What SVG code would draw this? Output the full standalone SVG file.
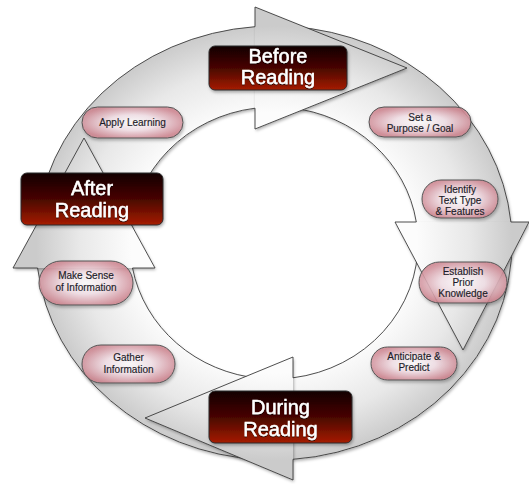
<svg xmlns="http://www.w3.org/2000/svg" width="529" height="484" viewBox="0 0 529 484">
<defs>
<radialGradient id="ringGrad" gradientUnits="userSpaceOnUse" cx="0" cy="0" r="1" gradientTransform="translate(274 243) scale(238 217)">
<stop offset="0.6" stop-color="#fcfcfc"/>
<stop offset="0.82" stop-color="#e8e8e8"/>
<stop offset="1" stop-color="#cbcbcb"/>
</radialGradient>
<linearGradient id="boxGrad" x1="0" y1="0" x2="0" y2="1">
<stop offset="0" stop-color="#120000"/>
<stop offset="0.5" stop-color="#480600"/>
<stop offset="1" stop-color="#a61c06"/>
</linearGradient>
<radialGradient id="pillGrad" cx="0.5" cy="0.5" r="0.55">
<stop offset="0" stop-color="#ffffff"/>
<stop offset="0.45" stop-color="#f5e3ea"/>
<stop offset="1" stop-color="#cf8590"/>
</radialGradient>
<filter id="shadow" x="-10%" y="-10%" width="130%" height="130%">
<feDropShadow dx="1" dy="2" stdDeviation="1.5" flood-color="#000" flood-opacity="0.3"/>
</filter>
<filter id="tshadow" x="-10%" y="-10%" width="120%" height="130%">
<feDropShadow dx="0" dy="1" stdDeviation="0.6" flood-color="#000" flood-opacity="0.8"/>
</filter>
</defs>
<style>
.shaft{fill:url(#ringGrad);stroke:none}
.edge{fill:none;stroke:#3a3a3a;stroke-width:0.9}
.head{fill:url(#ringGrad);stroke:none}
.phase rect{fill:url(#boxGrad);stroke:#2a2a2a;stroke-width:1}
.phase text{font-family:"Liberation Sans",Arial,sans-serif;font-size:20px;fill:#ffffff;stroke:#ffffff;stroke-width:0.4;text-anchor:middle}
.pill rect{fill:url(#pillGrad);fill-opacity:0.85;stroke:#555;stroke-width:1}
.pill text{font-family:"Liberation Sans",Arial,sans-serif;font-size:10px;fill:#1c1c28;stroke:#1c1c28;stroke-width:0.15;text-anchor:middle}
</style>
<rect width="529" height="484" fill="#ffffff"/>
<g id="connectors">
<g filter="url(#shadow)">
<path class="shaft" d="M36.2,235 A238,217 0 0 1 257,26.55 L257,107.95 A144,136 0 0 0 130.2,235 Z"/>
<path class="shaft" d="M290,26.5 A238,217 0 0 1 511.1,224 L416.6,224 A144,136 0 0 0 290,107.8 Z"/>
<path class="shaft" d="M512,240 A238,217 0 0 1 291,459.45 L291,378.05 A144,136 0 0 0 418,240 Z"/>
<path class="shaft" d="M260,459.6 A238,217 0 0 1 37.35,266 L132.07,266 A144,136 0 0 0 260,378.4 Z"/>
</g>
<path class="edge" d="M36.2,235 A238,217 0 0 1 255,26.7"/>
<path class="edge" d="M130.2,235 A144,136 0 0 1 255,108.2"/>
<path class="edge" d="M290,26.5 A238,217 0 0 1 510.9,222"/>
<path class="edge" d="M290,107.8 A144,136 0 0 1 416.3,222"/>
<path class="edge" d="M512,240 A238,217 0 0 1 293,459.3"/>
<path class="edge" d="M418,240 A144,136 0 0 1 293,377.8"/>
<path class="edge" d="M260,459.6 A238,217 0 0 1 37.6,268"/>
<path class="edge" d="M260,378.4 A144,136 0 0 1 132.5,268"/>
<g filter="url(#shadow)">
<polygon class="head" points="255,7 407,68 255,129"/>
<polygon class="head" points="529,222 463,350 395,222"/>
<polygon class="head" points="293,357 145,418 293,480"/>
<polygon class="head" points="13,268 84,138 155,268"/>
</g>
<path class="edge" d="M255,26.7 L255,7 L407,68 L255,129 L255,108.2"/>
<path class="edge" d="M510.9,222 L529,222 L463,350 L395,222 L416.3,222"/>
<path class="edge" d="M293,377.8 L293,357 L145,418 L293,480 L293,459.3"/>
<path class="edge" d="M37.6,268 L13,268 L84,138 L155,268 L132.5,268"/>
</g>
<g id="before-reading" class="phase">
<rect x="209" y="46" width="138" height="44" rx="6" filter="url(#shadow)"/>
<text x="278" y="63" filter="url(#tshadow)">Before</text>
<text x="278" y="84" filter="url(#tshadow)">Reading</text>
</g>
<g id="after-reading" class="phase">
<rect x="21" y="173" width="142" height="52" rx="6" filter="url(#shadow)"/>
<text x="92" y="195" filter="url(#tshadow)">After</text>
<text x="92" y="217" filter="url(#tshadow)">Reading</text>
</g>
<g id="during-reading" class="phase">
<rect x="209" y="391" width="143" height="52" rx="6" filter="url(#shadow)"/>
<text x="280.5" y="414" filter="url(#tshadow)">During</text>
<text x="280.5" y="436" filter="url(#tshadow)">Reading</text>
</g>
<g id="apply-learning" class="pill">
<rect x="82" y="107" width="101" height="31" rx="15.5" filter="url(#shadow)"/>
<text x="132.5" y="126">Apply Learning</text>
</g>
<g id="set-purpose" class="pill">
<rect x="369" y="107" width="102" height="30" rx="15" filter="url(#shadow)"/>
<text x="420" y="120.5">Set a</text>
<text x="420" y="131.5">Purpose / Goal</text>
</g>
<g id="identify-text-type" class="pill">
<rect x="422" y="180" width="76" height="38" rx="19" filter="url(#shadow)"/>
<text x="460" y="193">Identify</text>
<text x="460" y="204">Text Type</text>
<text x="460" y="214.5">&amp; Features</text>
</g>
<g id="establish-prior-knowledge" class="pill">
<rect x="419" y="262" width="88" height="41" rx="20.5" filter="url(#shadow)"/>
<text x="463" y="275">Establish</text>
<text x="463" y="286">Prior</text>
<text x="463" y="297">Knowledge</text>
</g>
<g id="anticipate-predict" class="pill">
<rect x="371" y="347" width="86" height="33" rx="16.5" filter="url(#shadow)"/>
<text x="414" y="360">Anticipate &amp;</text>
<text x="414" y="371">Predict</text>
</g>
<g id="gather-information" class="pill">
<rect x="82" y="345" width="93" height="38" rx="19" filter="url(#shadow)"/>
<text x="128.5" y="361">Gather</text>
<text x="128.5" y="373">Information</text>
</g>
<g id="make-sense" class="pill">
<rect x="39" y="261" width="94" height="44" rx="22" filter="url(#shadow)"/>
<text x="86" y="279">Make Sense</text>
<text x="86" y="291">of Information</text>
</g>
</svg>
